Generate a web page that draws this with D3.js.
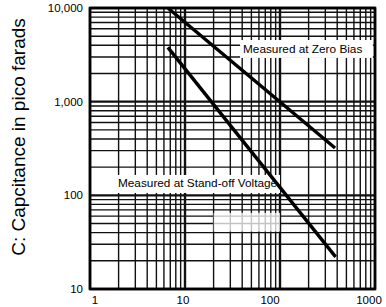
<!DOCTYPE html>
<html>
<head>
<meta charset="utf-8">
<script src="https://cdn.jsdelivr.net/npm/d3@7"></script>
<style>
  body { margin: 0; background: #fff; }
  svg { display: block; font-family: "Liberation Sans", Arial, sans-serif; }
</style>
</head>
<body>
<div id="chart"></div>
<script>
// data (log-log)
var xTicks = [1, 10, 100, 1000];
var xTickLabels = ["1", "10", "100", "1000"];
var yTicks = [10, 100, 1000, 10000];
var yTickLabels = ["10", "100", "1,000", "10,000"];

var zeroBiasV = [6.6, 380];
var zeroBiasC = [10000, 320];
var standOffV = [6.6, 385];
var standOffC = [3800, 22];

var labels = ["Measured at Zero Bias", "Measured at Stand-off Voltage"];
var yTitle = "C: Capcitance in pico farads";

var W = 386, H = 307;
var margin = {left: 90, right: 11, top: 8, bottom: 18};

var svg = d3.select("#chart").append("svg")
    .attr("width", W)
    .attr("height", H);

var x = d3.scaleLog().domain([1, 1000]).range([margin.left, W - margin.right]);
var y = d3.scaleLog().domain([10, 10000]).range([H - margin.bottom, margin.top]);

// minor grid lines: 1..9 times each decade
function gridValues(lo, hi) {
    var vals = [];
    for (var d = lo; d < hi; d *= 10) {
        for (var k = 1; k < 10; k++) vals.push(d * k);
    }
    vals.push(hi);
    return vals;
}

var g = svg.append("g");

g.selectAll("line.vx")
    .data(gridValues(1, 1000))
    .enter().append("line")
    .attr("x1", function(d) { return x(d); })
    .attr("x2", function(d) { return x(d); })
    .attr("y1", y(10000))
    .attr("y2", y(10))
    .attr("stroke", "#111")
    .attr("stroke-width", function(d) { return xTicks.indexOf(d) >= 0 ? 2.4 : 1.4; });

g.selectAll("line.hy")
    .data(gridValues(10, 10000))
    .enter().append("line")
    .attr("x1", x(1))
    .attr("x2", x(1000))
    .attr("y1", function(d) { return y(d); })
    .attr("y2", function(d) { return y(d); })
    .attr("stroke", "#111")
    .attr("stroke-width", function(d) { return yTicks.indexOf(d) >= 0 ? 2.4 : 1.4; });

// outer frame
svg.append("rect")
    .attr("x", x(1))
    .attr("y", y(10000))
    .attr("width", x(1000) - x(1))
    .attr("height", y(10) - y(10000))
    .attr("fill", "none")
    .attr("stroke", "#000")
    .attr("stroke-width", 2.6);

// faded patch in the scan
svg.append("rect")
    .attr("x", x(20))
    .attr("y", y(65))
    .attr("width", x(100) - x(20))
    .attr("height", y(41) - y(65))
    .attr("fill", "#fff")
    .attr("opacity", 0.75);

// label boxes
svg.append("rect")
    .attr("x", x(38)).attr("y", y(4550))
    .attr("width", x(950) - x(38)).attr("height", y(2930) - y(4550))
    .attr("fill", "#fff");
svg.append("text")
    .attr("x", x(40.8)).attr("y", y(3310))
    .attr("font-size", "11.8px")
    .attr("fill", "#000")
    .text(labels[0]);

svg.append("rect")
    .attr("x", x(1.62)).attr("y", y(165))
    .attr("width", x(100) - x(1.62)).attr("height", y(106) - y(165))
    .attr("fill", "#fff");
svg.append("text")
    .attr("x", x(1.97)).attr("y", y(123))
    .attr("font-size", "11.8px")
    .attr("fill", "#000")
    .text(labels[1]);

// curves
var line = d3.line()
    .x(function(d) { return x(d[0]); })
    .y(function(d) { return y(d[1]); });

[[zeroBiasV, zeroBiasC], [standOffV, standOffC]].forEach(function(s) {
    svg.append("path")
        .datum(d3.zip(s[0], s[1]))
        .attr("d", line)
        .attr("fill", "none")
        .attr("stroke", "#000")
        .attr("stroke-width", 3.4);
});

// tick labels
svg.selectAll("text.xt")
    .data(xTicks)
    .enter().append("text")
    .attr("x", function(d) { return x(d); })
    .attr("y", H - 3)
    .attr("text-anchor", "middle")
    .attr("dx", function(d, i) { return [5, -2, -10, -6][i]; })
    .attr("font-size", "11.5px")
    .text(function(d, i) { return xTickLabels[i]; });

svg.selectAll("text.yt")
    .data(yTicks)
    .enter().append("text")
    .attr("x", margin.left - 7)
    .attr("y", function(d) { return y(d); })
    .attr("dy", "0.35em")
    .attr("text-anchor", "end")
    .attr("font-size", "11.5px")
    .text(function(d, i) { return yTickLabels[i]; });

// y title
svg.append("text")
    .attr("transform", "translate(25,137) rotate(-90)")
    .attr("text-anchor", "middle")
    .attr("font-size", "19px")
    .text(yTitle);
</script>
</body>
</html>
